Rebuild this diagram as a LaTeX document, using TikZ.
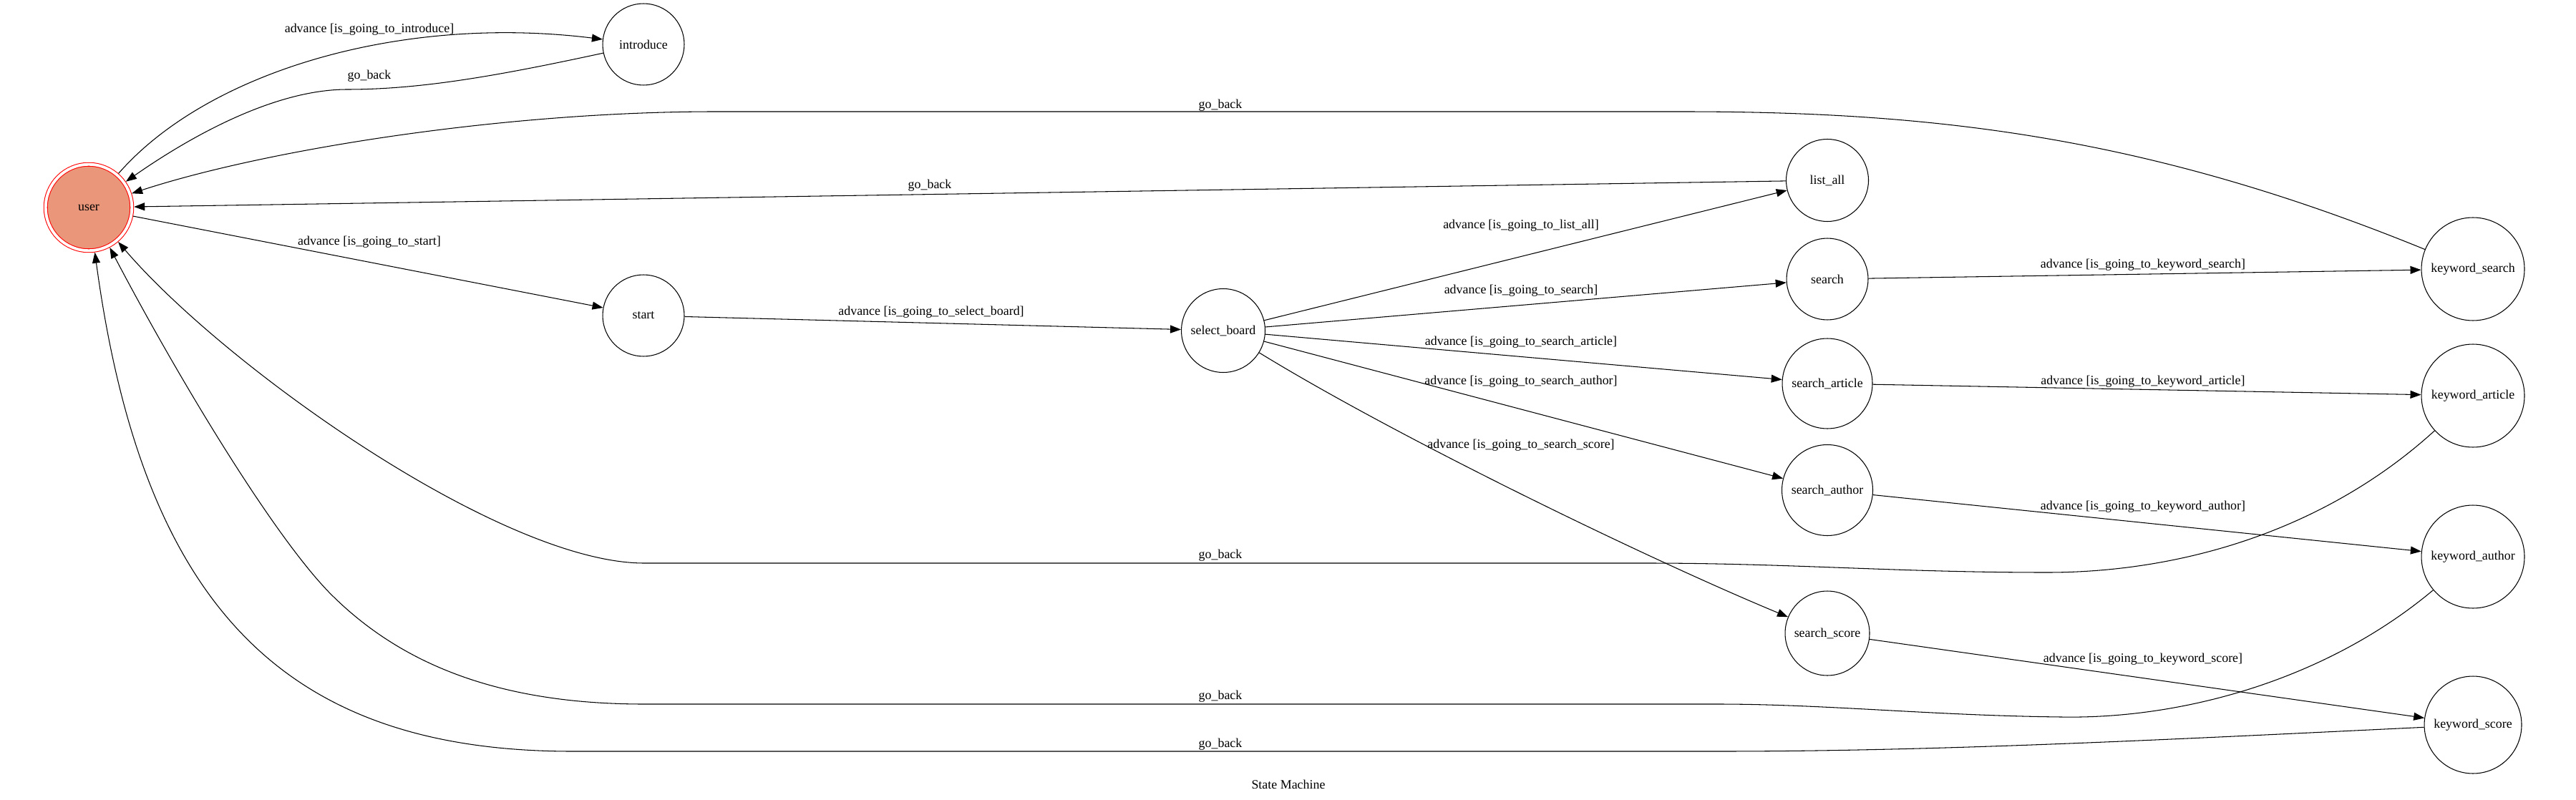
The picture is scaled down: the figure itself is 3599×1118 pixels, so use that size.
\documentclass[tikz,border=0pt]{standalone}
\usepackage{fontspec}
\setmainfont{Liberation Serif}
\usepackage{xcolor}
\usepackage{tikz}
\usetikzlibrary{arrows.meta}

\definecolor{usersalmon}{RGB}{233,150,122}

\begin{document}
\begin{tikzpicture}[
  x=0.02cm, y=-0.02cm,
  font=\fontsize{10.2}{12}\selectfont,
  state/.style={circle, draw, line width=0.6pt, minimum size=2.28cm, inner sep=1pt},
  initial/.style={state, draw=red, double=white, double distance=0.078cm, fill=usersalmon, minimum size=2.41cm, outer sep=0.06cm},
  lbl/.style={inner sep=0pt},
  >={Triangle[length=0.3cm, width=0.22cm]},
  every path/.style={line width=0.6pt}
]
\useasboundingbox (0,0) rectangle (3599,1118);

% Nodes
\node[initial] (user) at (124,290) {user};
\node[state] (introduce) at (899,62) {introduce};
\node[state] (start) at (899,441) {start};
\node[state, minimum size=2.34cm] (select_board) at (1709,462) {select\_board};
\node[state, minimum size=2.3cm] (list_all) at (2553,252) {list\_all};
\node[state] (search) at (2553,390) {search};
\node[state, minimum size=2.52cm] (search_article) at (2553,536) {search\_article};
\node[state, minimum size=2.54cm] (search_author) at (2553,685) {search\_author};
\node[state, minimum size=2.36cm] (search_score) at (2553,885) {search\_score};
\node[state, minimum size=2.88cm] (keyword_search) at (3455,376) {keyword\_search};
\node[state, minimum size=2.88cm] (keyword_article) at (3455,553) {keyword\_article};
\node[state, minimum size=2.88cm] (keyword_author) at (3455,778) {keyword\_author};
\node[state, minimum size=2.72cm] (keyword_score) at (3455,1013) {keyword\_score};

% Connections
\draw[->] (user) .. controls (290,100) and (560,20) .. (introduce);
\draw[->] (introduce) .. controls (700,105) and (590,125) .. (485,125) .. controls (380,125) and (260,195) .. (user);
\draw[->] (keyword_search) .. controls (3000,190) and (2700,156) .. (2350,156) -- (1000,156) .. controls (700,156) and (368,210) .. (user);
\draw[->] (list_all) -- (user);
\draw[->] (user) -- (start);
\draw[->] (start) -- (select_board);
\draw[->] (select_board) -- (list_all);
\draw[->] (select_board) -- (search);
\draw[->] (select_board) -- (search_article);
\draw[->] (select_board) -- (search_author);
\draw[->] (select_board) .. controls (1950,610) and (2300,780) .. (search_score);
\draw[->] (search) -- (keyword_search);
\draw[->] (search_article) -- (keyword_article);
\draw[->] (search_author) -- (keyword_author);
\draw[->] (search_score) -- (keyword_score);
\draw[->] (keyword_article) .. controls (3250,740) and (3050,800) .. (2860,800) .. controls (2650,800) and (2500,787) .. (2300,787) -- (900,787) .. controls (700,787) and (313,511) .. (user);
\draw[->] (keyword_author) .. controls (3250,950) and (3050,1005) .. (2880,1002) .. controls (2700,1000) and (2550,984) .. (2400,984) -- (900,984) .. controls (700,984) and (560,930) .. (459,827) .. controls (380,745) and (250,530) .. (user);
\draw[->] (keyword_score) .. controls (3000,1035) and (2700,1050) .. (2400,1050) -- (800,1050) .. controls (400,1050) and (200,850) .. (user);

% Labels
\node[lbl] (l_introduce) at (516,41) {advance [is\_going\_to\_introduce]};
\node[lbl] (l_back_introduce) at (516,106) {go\_back};
\node[lbl] (l_back_ksearch) at (1705,147) {go\_back};
\node[lbl] (l_back_list) at (1299,259) {go\_back};
\node[lbl] (l_start) at (516,338) {advance [is\_going\_to\_start]};
\node[lbl] (l_select) at (1301,436) {advance [is\_going\_to\_select\_board]};
\node[lbl] (l_list) at (2125,315) {advance [is\_going\_to\_list\_all]};
\node[lbl] (l_search) at (2125,406) {advance [is\_going\_to\_search]};
\node[lbl] (l_sarticle) at (2125,478) {advance [is\_going\_to\_search\_article]};
\node[lbl] (l_sauthor) at (2125,533) {advance [is\_going\_to\_search\_author]};
\node[lbl] (l_sscore) at (2125,622) {advance [is\_going\_to\_search\_score]};
\node[lbl] (l_ksearch) at (2994,370) {advance [is\_going\_to\_keyword\_search]};
\node[lbl] (l_karticle) at (2994,533) {advance [is\_going\_to\_keyword\_article]};
\node[lbl] (l_kauthor) at (2994,708) {advance [is\_going\_to\_keyword\_author]};
\node[lbl] (l_kscore) at (2994,921) {advance [is\_going\_to\_keyword\_score]};
\node[lbl] (l_back_karticle) at (1705,776) {go\_back};
\node[lbl] (l_back_kauthor) at (1705,973) {go\_back};
\node[lbl] (l_back_kscore) at (1705,1040) {go\_back};
\node[lbl] (title) at (1800,1096) {State Machine};

\end{tikzpicture}
\end{document}
